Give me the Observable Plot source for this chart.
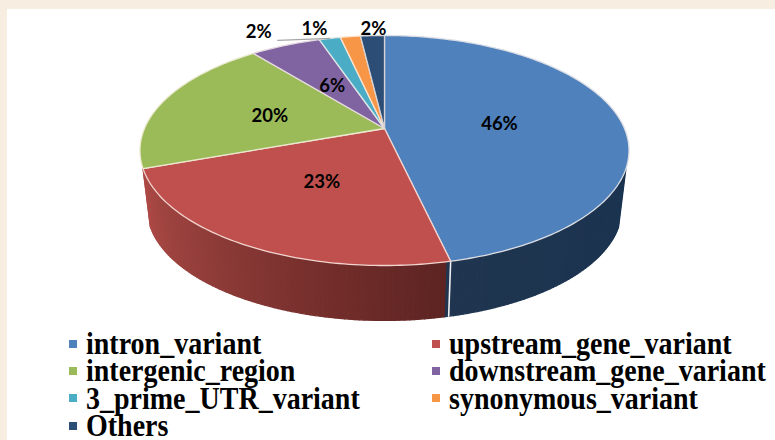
<!DOCTYPE html>
<html><head><meta charset="utf-8">
<script src="https://cdn.jsdelivr.net/npm/d3@7"></script>
<script src="https://cdn.jsdelivr.net/npm/@observablehq/plot@0.6"></script>
<style>
html,body{margin:0;padding:0;width:775px;height:440px;overflow:hidden;background:#f7ede0}
#panel{position:absolute;left:7px;top:9px;width:768px;height:431px;background:#fff}
#chart{position:absolute;left:0;top:0}
#legend{position:absolute;left:69px;top:330px;display:grid;grid-template-columns:363px auto;grid-auto-rows:27.3px;
 font-family:"Liberation Serif",serif;font-weight:700;font-size:28px;color:#000}
#legend .item{display:flex;align-items:center;height:27.3px;white-space:nowrap}
#legend .sw{width:8px;height:8px;margin-right:9px;flex:none}
#legend .tx{display:inline-block;transform:scale(1,1.14);transform-origin:left center;line-height:23px}
</style></head><body>
<div id="panel"></div><div id="chart"></div><div id="legend"></div>
<script>
const categories=["intron_variant","upstream_gene_variant","intergenic_region","downstream_gene_variant","3_prime_UTR_variant","synonymous_variant","Others"];
const shares=[46.4,23.1,19.7,5.6,1.7,1.6,1.9];
const percentLabels=["46%","23%","20%","6%","2%","1%","2%"];
const colors=["#4f81bd","#c0504d","#9bbb59","#8064a2","#4bacc6","#f79646","#2c4d75"];

// layout of the tilted disc
const hubX=384,hubY=128,A=240,B=110.8,tilt=0.1913,wallShrink=0.97,wallDrop=59/B;
const labelRadius=[.5,.5,.5,.47,1,1,1];
const labelDx=[-3,0,-2,-2,-71,-36,1], labelDy=[2,0,2,0,-6,-8,-7];

const rad=d=>d*Math.PI/180;
const proj=(deg,r=1)=>{const u=r*Math.sin(rad(deg)),v=r*Math.cos(rad(deg)),w=1+tilt*v;return {x:u/w,y:v/w}};
const lower=deg=>{const p=proj(deg);return {x:p.x*wallShrink,y:p.y*wallShrink-wallDrop}};

const arcs=d3.pie().sort(null).value(d=>d)(shares).map(a=>({...a,a0:a.startAngle*180/Math.PI,a1:a.endAngle*180/Math.PI}));

// top faces
const faces=arcs.flatMap((a,i)=>{
  const n=Math.max(2,Math.ceil(a.a1-a.a0));
  const pts=[{...proj(0,0),i}];
  for(let k=0;k<=n;k++)pts.push({...proj(a.a0+(a.a1-a.a0)*k/n),i});
  pts.push({...proj(0,0),i});
  return pts;
});
const rimColor=colors.map(c=>d3.interpolateRgb(c,"#fff5ee")(.8));

// side wall, shaded in thin strips
const rightLimit=110, seamAngle=arcs[0].a1, leftLimit=arcs[1].a1;
const blueShade=d3.scaleLinear([rightLimit,seamAngle],["#1b3450","#1f3550"]);
const redShade=d3.scaleLinear([seamAngle,195,225,leftLimit],["#5c2422","#78302d","#96403c","#ad4a46"]);
const strips=[];
let id=0;
for(let d=rightLimit;d<leftLimit;d+=1){
  const e=Math.min(d+1,leftLimit);
  const fill=d<seamAngle?blueShade(d):redShade(d);
  const s=id++;
  [proj(d),proj(e),lower(e),lower(d),proj(d)].forEach(p=>strips.push({...p,s,fill}));
}
const seam=[proj(seamAngle),lower(seamAngle)];

const labels=arcs.map((a,i)=>{const m=(a.a0+a.a1)/2;return {...proj(m,labelRadius[i]),t:percentLabels[i],dx:labelDx[i],dy:labelDy[i]}});
const rimTeal=proj((arcs[4].a0+arcs[4].a1)/2);
const leader=[rimTeal,{x:rimTeal.x-52/A,y:rimTeal.y-2/B}];

const W=775,H=330;
const mark=Plot.plot({
  width:W,height:H,margin:0,
  x:{domain:[-1,1],range:[hubX-A,hubX+A],axis:null},
  y:{domain:[-1,1],range:[hubY+B,hubY-B],axis:null},
  color:{type:"identity"},
  style:{background:"transparent",overflow:"visible"},
  marks:[
    Plot.line(strips,{x:"x",y:"y",z:"s",fill:"fill",stroke:"fill",strokeWidth:1.3,strokeLinejoin:"round"}),
    Plot.line(seam,{x:"x",y:"y",stroke:"#eef0f2",strokeWidth:1.6}),
    Plot.line(faces,{x:"x",y:"y",z:"i",fill:d=>colors[d.i],stroke:d=>rimColor[d.i],strokeWidth:1.3,strokeLinejoin:"round"}),
    Plot.line(leader,{x:"x",y:"y",stroke:"#a6a6a6",strokeWidth:1.2}),
    ...labels.map(l=>Plot.text([l],{x:"x",y:"y",text:"t",dx:l.dx,dy:l.dy,fontFamily:"Lato",fontWeight:700,fontSize:18.5,fill:"#000"}))
  ]
});
document.getElementById("chart").append(mark);
const lg=document.getElementById("legend");
categories.forEach((c,i)=>{
  const it=document.createElement("div");it.className="item";
  const sw=document.createElement("span");sw.className="sw";sw.style.background=colors[i];
  const tx=document.createElement("span");tx.className="tx";tx.textContent=c;
  it.append(sw,tx);lg.append(it);
});
</script></body></html>
